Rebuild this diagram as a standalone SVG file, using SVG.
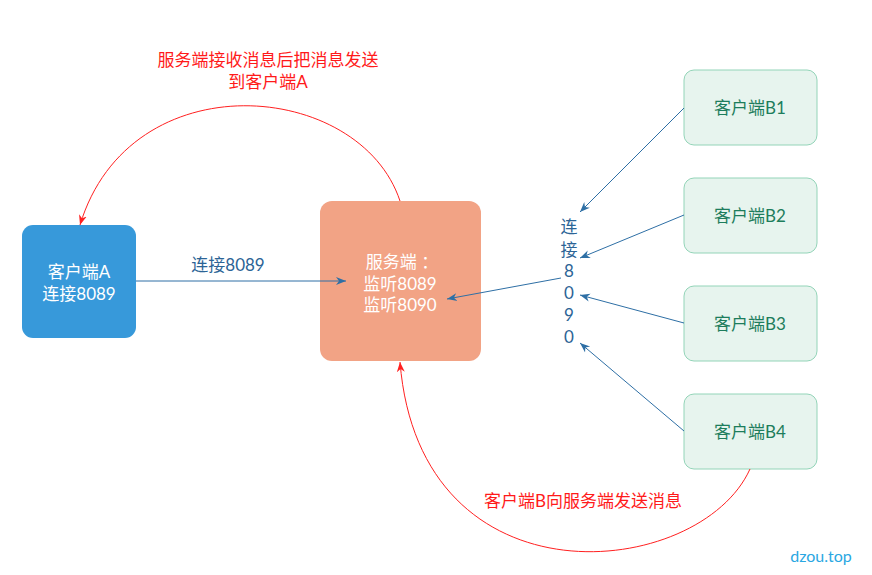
<svg xmlns="http://www.w3.org/2000/svg" width="872" height="575" viewBox="0 0 872 575">
<defs>
<style>
text{font-family:Lato,"Noto Sans CJK SC",sans-serif;font-size:17px;text-anchor:middle}
.w{fill:#ffffff}
.g{fill:#1d7d5c}
.r{fill:#ff1a1a}
.bl{fill:#2c6496}
.bnode{fill:#e7f4ee;stroke:#93d4b8;stroke-width:1}
.bc{fill:none;stroke:#2e6fa5;stroke-width:1}
.rc{fill:none;stroke:#ff2020;stroke-width:1}
</style>
<marker id="ab" markerUnits="userSpaceOnUse" markerWidth="12" markerHeight="10" refX="10" refY="5" orient="auto"><path d="M0,1 L10,5 L0,9 L3,5 Z" fill="#2e6fa5"/></marker>
<marker id="ar" markerUnits="userSpaceOnUse" markerWidth="12" markerHeight="10" refX="10" refY="5" orient="auto"><path d="M0,1 L10,5 L0,9 L3,5 Z" fill="#ff2020"/></marker>
</defs>
<rect width="872" height="575" fill="#ffffff"/>
<g id="clientA">
<rect x="22" y="225" width="114" height="113" rx="11" fill="#3799da"/>
<text class="w" x="79" y="278">客户端A</text>
<text class="w" x="79" y="300">连接8089</text>
</g>
<g id="server">
<rect x="320" y="201" width="161" height="160" rx="12" fill="#f2a385"/>
<text class="w" x="402" y="268">服务端 ：</text>
<text class="w" x="400" y="290">监听8089</text>
<text class="w" x="400" y="311">监听8090</text>
</g>
<g id="clientB1">
<rect class="bnode" x="684" y="70" width="133" height="75" rx="10"/>
<text class="g" x="750" y="114">客户端B1</text>
</g>
<g id="clientB2">
<rect class="bnode" x="684" y="178" width="133" height="75" rx="10"/>
<text class="g" x="750" y="222">客户端B2</text>
</g>
<g id="clientB3">
<rect class="bnode" x="684" y="286" width="133" height="75" rx="10"/>
<text class="g" x="750" y="330">客户端B3</text>
</g>
<g id="clientB4">
<rect class="bnode" x="684" y="394" width="133" height="75" rx="10"/>
<text class="g" x="750" y="438">客户端B4</text>
</g>
<g id="connectors">
<path class="bc" d="M136,281 L346,281" marker-end="url(#ab)"/>
<path class="bc" d="M684,108 L580,212" marker-end="url(#ab)"/>
<path class="bc" d="M684,215 L580,258" marker-end="url(#ab)"/>
<path class="bc" d="M684,323 L580,295" marker-end="url(#ab)"/>
<path class="bc" d="M684,431 L580,343" marker-end="url(#ab)"/>
<path class="bc" d="M561,278 L447,299" marker-end="url(#ab)"/>
<path class="rc" d="M400,201 C360,80 130,60 80,225" marker-end="url(#ar)"/>
<path class="rc" d="M750,469 C700,580 420,610 400,362" marker-end="url(#ar)"/>
</g>
<g id="labels">
<text class="bl" x="228" y="271">连接8089</text>
<text class="bl" x="569" y="233">连</text>
<text class="bl" x="569" y="256">接</text>
<text class="bl" x="569" y="277">8</text>
<text class="bl" x="569" y="299">0</text>
<text class="bl" x="569" y="321">9</text>
<text class="bl" x="569" y="343">0</text>
<text class="r" x="268" y="66">服务端接收消息后把消息发送</text>
<text class="r" x="268" y="88">到客户端A</text>
<text class="r" x="583" y="507">客户端B向服务端发送消息</text>
<text x="821" y="562" style="font-size:16px;fill:#2aa7e2">dzou.top</text>
</g>
</svg>
